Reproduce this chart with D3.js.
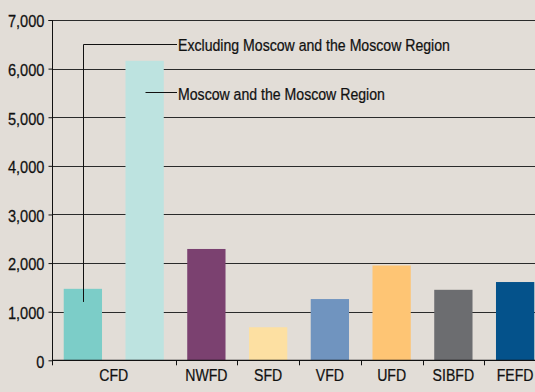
<!DOCTYPE html>
<html>
<head>
<meta charset="utf-8">
<script src="https://cdn.jsdelivr.net/npm/d3@7"></script>
<style>
  html, body { margin: 0; padding: 0; background: #e2ddd7; }
  svg { display: block; }
  text { font-family: "Liberation Sans Narrow", "Arial Narrow", "Liberation Sans", Arial, sans-serif; fill: #111; stroke: #111; stroke-width: 0.25px; }
</style>
</head>
<body>
<svg id="chart" width="535" height="392"></svg>
<script>
// Bar slots (CFD is split into two bars)
const slots = ["CFD-ex", "CFD-msk", "NWFD", "SFD", "VFD", "UFD", "SIBFD", "FEFD"];
const values = [1470, 6160, 2290, 680, 1260, 1950, 1450, 1610];
const colors = ["#7ccdc8", "#bde3e0", "#7b4170", "#fde0a2", "#7094bf", "#fec574", "#6c6d70", "#04528b"];
// District labels on the category axis: label, first slot, last slot
const groups = [["CFD", 0, 1], ["NWFD", 2, 2], ["SFD", 3, 3], ["VFD", 4, 4], ["UFD", 5, 5], ["SIBFD", 6, 6], ["FEFD", 7, 7]];
const yTicks = [0, 1000, 2000, 3000, 4000, 5000, 6000, 7000];
const notes = ["Excluding Moscow and the Moscow Region", "Moscow and the Moscow Region"];

const svg = d3.select("#chart");
const plotLeft = 52, plotRight = 546, plotTop = 20, plotBottom = 360.3;
const fontSize = "17px";
const squeeze = 0.83;     // condensed lettering
const squeezeNum = 0.86;  // condensed digits

const x = d3.scaleBand().domain(d3.range(slots.length)).range([plotLeft, plotRight])
  .paddingInner(0.38).paddingOuter(0.19);
const y = d3.scaleLinear().domain([0, 7000]).range([plotBottom, plotTop]);
const step = x.step();

// Places a condensed text label at (px, py)
function label(sel, px, py) {
  return sel.attr("x", 0).attr("y", 0)
    .attr("transform", (d, i) => `translate(${typeof px === "function" ? px(d, i) : px},${py}) scale(${squeeze},1)`);
}

// Horizontal gridlines
svg.append("g").selectAll("line").data(yTicks.filter(d => d > 0)).join("line")
  .attr("x1", plotLeft).attr("x2", 535)
  .attr("y1", d => Math.round(y(d)) + 0.5).attr("y2", d => Math.round(y(d)) + 0.5)
  .attr("stroke", "#2a2a2a").attr("stroke-width", 1);

// Y axis
const yAxis = svg.append("g").attr("transform", `translate(${plotLeft + 0.5},0)`)
  .call(d3.axisLeft(y).tickValues(yTicks).tickFormat(d3.format(",")).tickSize(4).tickPadding(3));
yAxis.select(".domain").attr("stroke", "#111").attr("d", `M-4,${Math.round(y(7000)) + 0.5}H0V${plotBottom}`);
yAxis.selectAll(".tick line").attr("stroke", "#111");
yAxis.selectAll(".tick text").style("font-size", fontSize).attr("fill", "#111")
  .attr("font-family", null)
  .attr("x", 0).attr("dy", "0.4em")
  .attr("transform", `translate(-8,0) scale(${squeezeNum},1)`);

// Bars
svg.append("g").selectAll("rect").data(values).join("rect")
  .attr("x", (d, i) => x(i)).attr("width", x.bandwidth())
  .attr("y", d => y(d)).attr("height", d => y(0) - y(d))
  .attr("fill", (d, i) => colors[i]);

// Baseline and category boundary ticks
svg.append("line").attr("x1", plotLeft).attr("x2", 535)
  .attr("y1", plotBottom).attr("y2", plotBottom).attr("stroke", "#111").attr("stroke-width", 1.2);
const bounds = groups.map(g => plotLeft + g[1] * step).concat([plotLeft + slots.length * step]);
svg.append("g").selectAll("line").data(bounds).join("line")
  .attr("x1", d => Math.round(d) + 0.5).attr("x2", d => Math.round(d) + 0.5)
  .attr("y1", plotBottom).attr("y2", plotBottom + 5).attr("stroke", "#111");

// District labels
label(svg.append("g").selectAll("text").data(groups).join("text"),
      g => plotLeft + (g[1] + g[2] + 1) / 2 * step, 380.5)
  .attr("text-anchor", "middle").style("font-size", fontSize)
  .text(g => g[0]);

// Callouts for the two CFD bars
const cx0 = x(0) + x.bandwidth() / 2;
const cx1 = x(1) + x.bandwidth() / 2;
const yNote0 = 44.5, yNote1 = 92.5, textX = 178;
svg.append("path")
  .attr("d", `M${Math.round(cx0) + 0.5},${y(1200)}V${yNote0}H${textX - 1}`)
  .attr("fill", "none").attr("stroke", "#111");
svg.append("path")
  .attr("d", `M${Math.round(cx1) + 0.5},${yNote1}H${textX - 1}`)
  .attr("fill", "none").attr("stroke", "#111");
label(svg.append("text"), textX, yNote0 + 6.3).style("font-size", fontSize).text(notes[0]);
label(svg.append("text"), textX, yNote1 + 7).style("font-size", fontSize).text(notes[1]);
</script>
</body>
</html>
